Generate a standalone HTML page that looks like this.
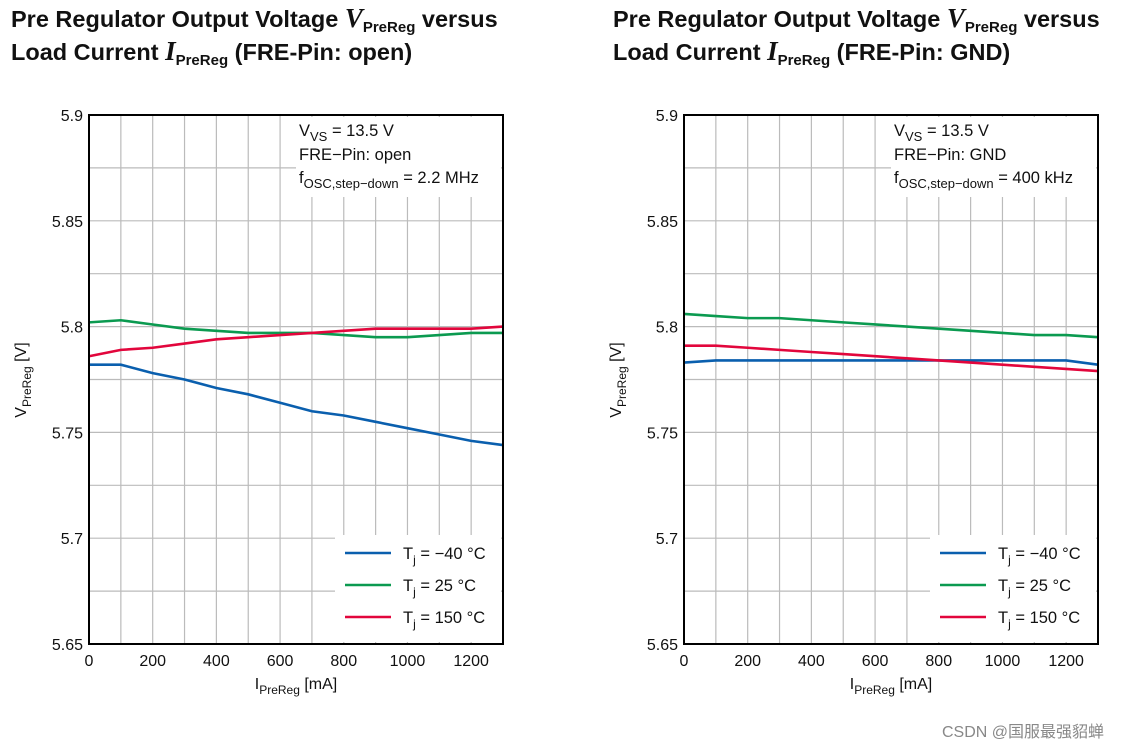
<!DOCTYPE html>
<html><head><meta charset="utf-8"><style>
body{margin:0;background:#fff;width:1123px;height:748px;overflow:hidden;font-family:"Liberation Sans",Arial,sans-serif}
.t{position:absolute;font-weight:bold;font-size:23.5px;line-height:32px;color:#111;white-space:nowrap}
.t i{font-family:"Liberation Serif",serif;font-size:27px}
.t sub{font-size:15px;line-height:0;vertical-align:baseline;position:relative;top:5px}
</style></head><body>
<div class="t" style="left:11px;top:2px">Pre Regulator Output Voltage <i>V</i><sub>PreReg</sub> versus<br>Load Current <i>I</i><sub>PreReg</sub> (FRE-Pin: open)</div>
<div class="t" style="left:613px;top:2px">Pre Regulator Output Voltage <i>V</i><sub>PreReg</sub> versus<br>Load Current <i>I</i><sub>PreReg</sub> (FRE-Pin: GND)</div>
<svg id="svg" width="1123" height="748" style="position:absolute;left:0;top:0" xmlns="http://www.w3.org/2000/svg" font-family="Liberation Sans, Arial, sans-serif"></svg>
<div style="position:absolute;left:942px;top:718px;font-size:16px;color:#888;font-family:'Liberation Sans','Noto Sans CJK SC',sans-serif">CSDN @国服最强貂蝉</div>
<script>
const xTicks=[0,200,400,600,800,1000,1200];
const yTicks=[5.65,5.7,5.75,5.8,5.85,5.9];
const xData=[0,100,200,300,400,500,600,700,800,900,1000,1100,1200,1300];
const L_blue=[5.782,5.782,5.778,5.775,5.771,5.768,5.764,5.760,5.758,5.755,5.752,5.749,5.746,5.744];
const L_green=[5.802,5.803,5.801,5.799,5.798,5.797,5.797,5.797,5.796,5.795,5.795,5.796,5.797,5.797];
const L_red=[5.786,5.789,5.790,5.792,5.794,5.795,5.796,5.797,5.798,5.799,5.799,5.799,5.799,5.800];
const R_blue=[5.783,5.784,5.784,5.784,5.784,5.784,5.784,5.784,5.784,5.784,5.784,5.784,5.784,5.782];
const R_green=[5.806,5.805,5.804,5.804,5.803,5.802,5.801,5.800,5.799,5.798,5.797,5.796,5.796,5.795];
const R_red=[5.791,5.791,5.790,5.789,5.788,5.787,5.786,5.785,5.784,5.783,5.782,5.781,5.780,5.779];
const svg=document.getElementById('svg');const NS='http://www.w3.org/2000/svg';
function mk(tag,attrs,parent){const e=document.createElementNS(NS,tag);for(const k in attrs)e.setAttribute(k,attrs[k]);(parent||svg).appendChild(e);return e;}
function chart(x0,series,notes,side){
 const x1=x0+414,yT=115,yB=644;
 const sx=v=>x0+(v/1300)*(x1-x0), sy=v=>yB-(v-5.65)/0.25*(yB-yT);
 const g=mk('g',{});
 
 
 for(let v=100;v<1300;v+=100){const l=mk('line',{x1:sx(v),x2:sx(v),y1:yT,y2:yB,stroke:'#bbb','stroke-width':1.2},g);}
 for(let i=1;i<10;i++){const v=5.65+i*0.025;const l=mk('line',{x1:x0,x2:x1,y1:sy(v),y2:sy(v),stroke:'#bbb','stroke-width':1.2},g);}
 const nb=mk('rect',{x:x0+207,y:yT+2,width:205,height:80,fill:'#fff'},g);
 
 const tx=mk('text',{x:x0+210,y:yT+21,'font-size':16.5,fill:'#111'},g);tx.innerHTML=notes[0];
 
 const t2=mk('text',{x:x0+210,y:yT+45,'font-size':16.5,fill:'#111'},g);t2.textContent=notes[1];
 
 const t3=mk('text',{x:x0+210,y:yT+68,'font-size':16.5,fill:'#111'},g);t3.innerHTML=notes[2];
 
 const lb=mk('rect',{x:x0+246,y:535,width:166,height:107,fill:'#fff'},g);
 
 const cols=['#0a5fae','#0b9a50','#e2063c'],labs=['T<tspan font-size="12" dy="5">j</tspan><tspan dy="-5"> = −40 °C</tspan>','T<tspan font-size="12" dy="5">j</tspan><tspan dy="-5"> = 25 °C</tspan>','T<tspan font-size="12" dy="5">j</tspan><tspan dy="-5"> = 150 °C</tspan>'];
 series.forEach((s,i)=>{
  const p=mk('polyline',{points:xData.map((x,j)=>sx(x)+','+sy(s[j])).join(' '),fill:'none',stroke:cols[i],'stroke-width':2.6},g);
  
  const ly=553+i*32;
  const ll=mk('line',{x1:x0+256,x2:x0+302,y1:ly,y2:ly,stroke:cols[i],'stroke-width':2.6},g);
  
  const lt=mk('text',{x:x0+314,y:ly+6,'font-size':16.5,fill:'#111'},g);lt.innerHTML=labs[i];
  
 });
 const fr=mk('rect',{x:x0,y:yT,width:x1-x0,height:yB-yT,fill:'none',stroke:'#000','stroke-width':2},g);
 
 xTicks.forEach(v=>{const t=mk('text',{x:sx(v),y:yB+22,'font-size':16,'text-anchor':'middle',fill:'#111'},g);t.textContent=v;});
 yTicks.forEach(v=>{const t=mk('text',{x:x0-6,y:sy(v)+6,'font-size':16,'text-anchor':'end',fill:'#111'},g);t.textContent=v===5.8?'5.8':v===5.7?'5.7':v===5.9?'5.9':v.toFixed(2);});
 const xt=mk('text',{x:(x0+x1)/2,y:689,'font-size':16,'text-anchor':'middle',fill:'#111'},g);
 xt.innerHTML='I<tspan font-size="12" dy="5">PreReg</tspan><tspan dy="-5"> [mA]</tspan>';
 
 const yt=mk('text',{x:0,y:0,'font-size':16,'text-anchor':'middle',fill:'#111',transform:`translate(${x0-63},380) rotate(-90)`},g);
 yt.innerHTML='V<tspan font-size="12" dy="5">PreReg</tspan><tspan dy="-5"> [V]</tspan>';
 
}
chart(89,[L_blue,L_green,L_red],['V<tspan font-size="13" dy="5">VS</tspan><tspan dy="-5"> = 13.5 V</tspan>','FRE−Pin: open','f<tspan font-size="13" dy="5">OSC,step−down</tspan><tspan dy="-5"> = 2.2 MHz</tspan>'],'left');
chart(684,[R_blue,R_green,R_red],['V<tspan font-size="13" dy="5">VS</tspan><tspan dy="-5"> = 13.5 V</tspan>','FRE−Pin: GND','f<tspan font-size="13" dy="5">OSC,step−down</tspan><tspan dy="-5"> = 400 kHz</tspan>'],'right');
</script>
</body></html>
